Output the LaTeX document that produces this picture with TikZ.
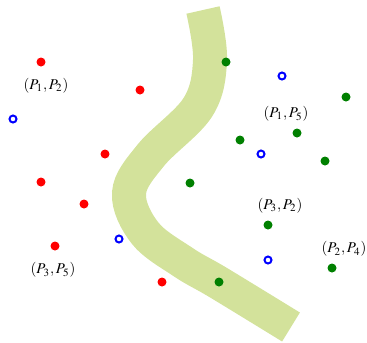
\documentclass[tikz,border=0pt]{standalone}
\usepackage{mathptmx}
\definecolor{faixa}{RGB}{211,226,155}
\definecolor{verde}{RGB}{0,128,0}
\begin{document}
\begin{tikzpicture}[x=0.02cm,y=-0.02cm,
    ponto/.style={circle,inner sep=0pt,minimum size=0.18cm},
    vermelho/.style={ponto,fill=red},
    verdeP/.style={ponto,fill=verde},
    azul/.style={circle,inner sep=0pt,minimum size=0.14cm,draw=blue,line width=0.04cm},
    rotulo/.style={inner sep=0pt,font=\fontsize{8.5}{10}\selectfont}]
                \useasboundingbox (0,0) rectangle (367,342);

                % a faixa
                \draw[line width=0.68cm, faixa] plot[smooth, tension=0.6] coordinates
                {(203,10) (210,60) (198,107) (151,155) (129,193) (145,233) (183,262) (219,283) (291,327)};

                % pontos vermelhos
                \foreach \Point [count=\i] in {(41,62),(140,90),(105,154),(41,182),(84,204),(55,246),(162,282)}{
                    \node[vermelho] (r\i) at \Point {};
                }
                % pontos verdes
                \foreach \Point [count=\i] in {(226,62),(346,97),(297,133),(240,140),(325,161),(190,183),(268,225),(332,268),(219,282)}{
                    \node[verdeP] (g\i) at \Point {};
                }
                % circulos azuis
                \foreach \Point [count=\i] in {(13,119),(282,76),(261,154),(119,239),(268,260)}{
                    \node[azul] (b\i) at \Point {};
                }

                % rotulos
                \node[rotulo] (p12) at (46,86) {$(P_1,P_2)$};
                \node[rotulo] (p15) at (286,114) {$(P_1,P_5)$};
                \node[rotulo] (p32) at (280,206) {$(P_3,P_2)$};
                \node[rotulo] (p24) at (344,249) {$(P_2,P_4)$};
                \node[rotulo] (p35) at (53,270) {$(P_3,P_5)$};
\end{tikzpicture}
\end{document}
